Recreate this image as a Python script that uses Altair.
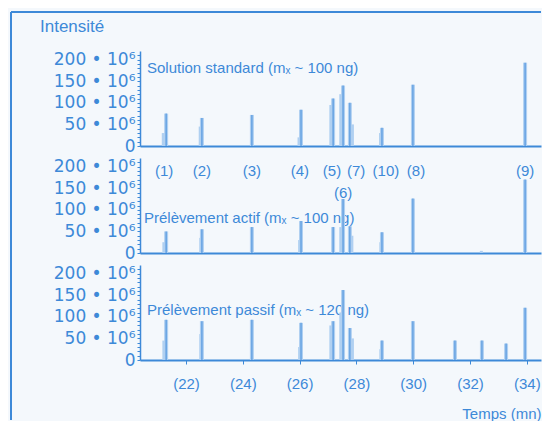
import altair as alt
import pandas as pd

# ---- data ----
compounds = ["(1)", "(2)", "(3)", "(4)", "(5)", "(6)", "(7)", "(10)", "(8)", "(9)"]
peak_times = [21.30, 22.56, 24.32, 26.05, 27.18, 27.53, 27.77, 28.90, 29.99, 33.94]
standard_heights = [75, 65, 72, 84, 110, 140, 100, 42, 142, 193]
actif_heights = [50, 55, 60, 74, 60, 125, 62, 48, 126, 170]
passif_heights = [93, 90, 93, 86, 90, 162, 74, 45, 90, 121]

# shoulders / minor peaks
standard_minor_times = [21.20, 22.50, 25.98, 27.10, 27.45, 27.86, 28.85]
standard_minor_heights = [30, 45, 20, 95, 120, 50, 30]
actif_minor_times = [21.22, 22.52, 26.00, 27.45, 27.84, 28.86, 32.40]
actif_minor_heights = [25, 35, 30, 60, 40, 25, 5]
passif_extra_times = [31.47, 32.42, 33.27]
passif_extra_heights = [45, 45, 38]
passif_minor_times = [21.22, 22.52, 26.00, 27.10, 27.45, 27.86, 28.86]
passif_minor_heights = [45, 60, 30, 80, 110, 50, 25]

label_row1 = ["(1)", "(2)", "(3)", "(4)", "(5)", "(7)", "(10)", "(8)", "(9)"]
label_row1_times = [21.23, 22.56, 24.32, 26.01, 27.14, 27.99, 29.04, 30.10, 33.94]
label_row2 = ["(6)"]
label_row2_times = [27.53]

x_ticks = [22, 24, 26, 28, 30, 32, 34]
y_minor_ticks = list(range(0, 220, 10))

panel_titles = [
    "Solution standard (mₓ ~ 100 ng)",
    "Prélèvement actif (mₓ ~ 100 ng)",
    "Prélèvement passif (mₓ ~ 120 ng)",
]

BLUE = "#3d89d8"
CORE = "#5a9be0"
LIGHT = "#b0d0f1"
W, H = 401, 95
XDOM = [20.38, 34.50]
YDOM = [0, 220]
NARROW = "Liberation Sans, Arial"
REG = "Liberation Sans, Arial"
YLAB = "DejaVu Sans"

one = pd.DataFrame({"a": [0]})


def xenc(show):
    if show:
        ax = alt.Axis(values=x_ticks, labelExpr="'(' + datum.value + ')'", grid=False,
                      domainColor=BLUE, domainWidth=2, tickColor=BLUE, tickSize=4,
                      labelColor=BLUE, labelFontSize=15, labelFont=NARROW, labelPadding=12,
                      title="Temps (mn)", titleColor=BLUE, titleFont=NARROW, titleFontSize=15,
                      titleFontWeight="normal", titleAlign="right", titleAnchor="end",
                      titleX=W, titleY=46)
    else:
        ax = alt.Axis(labels=False, ticks=False, grid=False, domainColor=BLUE,
                      domainWidth=2, title=None)
    return alt.X("t:Q", scale=alt.Scale(domain=XDOM, nice=False, zero=False), axis=ax)


def yenc():
    ax = alt.Axis(values=y_minor_ticks,
                  labelExpr="datum.value % 50 == 0 ? (datum.value == 0 ? '0' : datum.value + ' • 10⁶') : ''",
                  labelOverlap=False, labelFlush=False, grid=False, domainColor=BLUE,
                  domainWidth=1.5, tickColor=BLUE, tickSize=3, labelColor=BLUE,
                  labelFontSize=17, labelFont=YLAB, labelPadding=2, title=None)
    return alt.Y("h:Q", scale=alt.Scale(domain=YDOM, nice=False), axis=ax)


def panel(title, text_xy, times, heights, minor_times, minor_heights, show_x, extras=()):
    df = pd.DataFrame({"t": times, "h": heights})
    dm = pd.DataFrame({"t": minor_times, "h": minor_heights})
    txt = alt.Chart(one).mark_text(align="left", baseline="middle", font=NARROW,
                                   fontSize=15, color=BLUE, text=title).encode(
        x=alt.value(text_xy[0]), y=alt.value(text_xy[1]))
    minor = alt.Chart(dm).mark_rule(color=LIGHT, strokeWidth=3).encode(
        x=xenc(show_x), y=yenc(), y2=alt.datum(0))
    wide = alt.Chart(df).mark_rule(color=LIGHT, strokeWidth=4).encode(
        x=xenc(show_x), y=yenc(), y2=alt.datum(0))
    core = alt.Chart(df).mark_rule(color=CORE, strokeWidth=1.3).encode(
        x=xenc(show_x), y=yenc(), y2=alt.datum(0))
    return alt.layer(txt, minor, wide, core, *extras).properties(width=W, height=H)


# frame and y title (panel 1 extras)
frame_top = alt.Chart(one).mark_rule(color=BLUE, strokeWidth=2).encode(
    x=alt.value(-129), x2=alt.value(W), y=alt.value(-39))
frame_left = alt.Chart(one).mark_rule(color=BLUE, strokeWidth=2).encode(
    x=alt.value(-129), y=alt.value(-39), y2=alt.value(369))
y_title = alt.Chart(one).mark_text(align="left", baseline="middle", font=REG,
                                   fontSize=17, color=BLUE, text="Intensité").encode(
    x=alt.value(-100), y=alt.value(-24))

p1 = panel(panel_titles[0], (7, 17), peak_times, standard_heights,
           standard_minor_times, standard_minor_heights, False,
           extras=(frame_top, frame_left, y_title))

lab1 = alt.Chart(pd.DataFrame({"t": label_row1_times, "lab": label_row1})).mark_text(
    baseline="middle", font=NARROW, fontSize=15, color=BLUE).encode(
    x=alt.X("t:Q", scale=alt.Scale(domain=XDOM, nice=False, zero=False)),
    y=alt.value(13), text="lab:N")
lab2 = alt.Chart(pd.DataFrame({"t": label_row2_times, "lab": label_row2})).mark_text(
    baseline="middle", font=NARROW, fontSize=15, color=BLUE).encode(
    x=alt.X("t:Q", scale=alt.Scale(domain=XDOM, nice=False, zero=False)),
    y=alt.value(35), text="lab:N")

p2 = panel(panel_titles[1], (4, 60), peak_times, actif_heights,
           actif_minor_times, actif_minor_heights, False, extras=(lab1, lab2))

p3 = panel(panel_titles[2], (7, 45), peak_times + passif_extra_times,
           passif_heights + passif_extra_heights,
           passif_minor_times, passif_minor_heights, True)

chart = alt.vconcat(p1, p2, p3, spacing=12, bounds="flush").properties(
    padding={"left": 2, "top": 3, "right": 0, "bottom": 0},
    background="#f4f8fc",
).configure_view(stroke=None)

chart.save("out.html", embed_options={"renderer": "svg", "actions": False})
